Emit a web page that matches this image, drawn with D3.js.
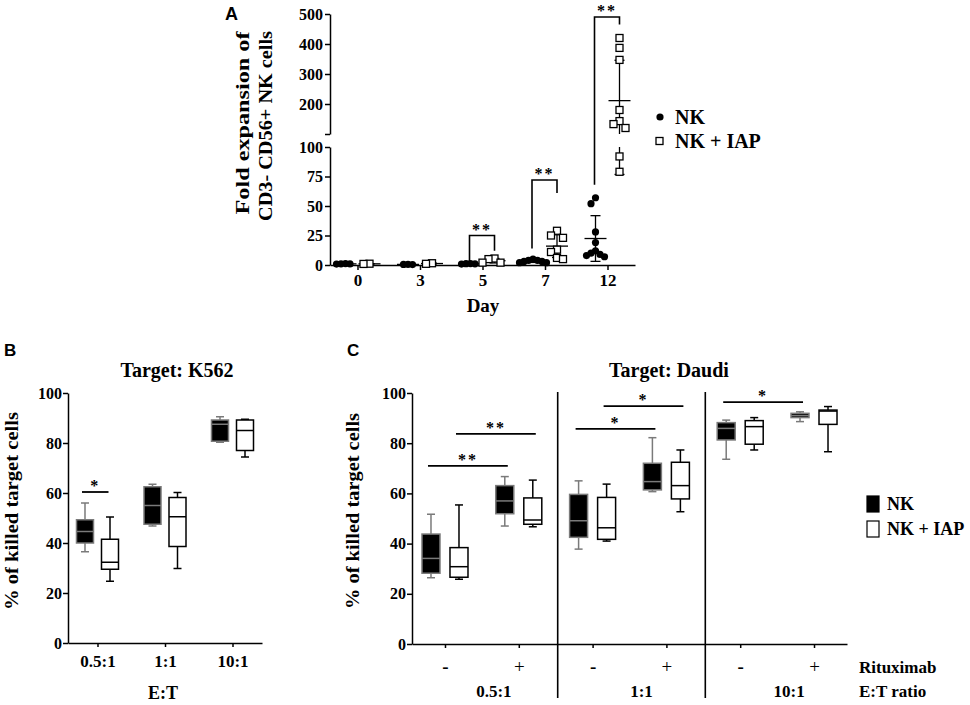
<!DOCTYPE html>
<html>
<head>
<meta charset="utf-8">
<script src="https://cdn.jsdelivr.net/npm/d3@7"></script>
<style>
  body { margin: 0; background: #fff; }
  svg text { font-family: 'Liberation Serif', 'Times New Roman', serif; font-weight: bold; fill: #000; }
  .axis path, .axis line { stroke: #000; stroke-width: 1.5; }
  .axis text { font-family: 'Liberation Serif', 'Times New Roman', serif; font-weight: bold; fill: #000; }
  .panel { font-family: 'Liberation Sans', Arial, sans-serif !important; }
</style>
</head>
<body>
<script>
// ---- Panel A: fold expansion by day
const days = ["0", "3", "5", "7", "12"];
const nkFold = [
  [0.8, 1.0, 1.2, 0.9],
  [0.4, 0.6, 0.5],
  [1.0, 1.2, 0.8, 1.1],
  [2, 3, 4, 5, 3, 2, 4],
  [57, 52, 28, 19, 12, 10, 9, 8, 7]
];
const iapFold = [
  [0.9, 1.1],
  [1.5, 1.0],
  [5.5, 5, 2, 2],
  [29, 25, 23, 13, 11, 6, 5],
  [420, 387, 347, 180, 143, 133, 120, 92, 79]
];
const lowTicks = [0, 25, 50, 75, 100];
const highTicks = [100, 200, 300, 400, 500];
// brackets: day, bracket top, end of NK leg, end of IAP leg
const sigA = [
  { day: "5", top: 25, nkEnd: 3, iapEnd: 12, label: "**" },
  { day: "7", top: 72, nkEnd: 14, iapEnd: 61, label: "**" },
  { day: "12", top: 490, nkEnd: 68, iapEnd: 465, label: "**" }
];

// ---- Panel B: K562, box stats [min, q1, median, q3, max]
const etRatios = ["0.5:1", "1:1", "10:1"];
const nkK562 = [
  [36.5, 40, 44.6, 49.3, 56],
  [46.8, 47.5, 55, 62.5, 63.5],
  [80.3, 80.7, 87.5, 89.2, 90.5]
];
const iapK562 = [
  [24.7, 29.5, 32.3, 41.5, 50.4],
  [29.8, 38.6, 50.5, 58.2, 60.2],
  [74.4, 77, 85, 89.2, 89.5]
];
const sigB = [{ ratio: "0.5:1", y: 60.4, label: "*" }];

// ---- Panel C: Daudi, with / without rituximab
const daudiRatios = ["0.5:1", "1:1", "10:1"];
const rituximab = ["-", "+"];
const nkDaudi = [
  [26.4, 28.2, 34.1, 43.8, 51.7],
  [47, 51.9, 57, 63.1, 66.7],
  [37.8, 42.5, 49.1, 59.6, 65],
  [60.7, 61.4, 64.7, 72, 82.2],
  [73.6, 81.3, 85.9, 88.2, 89.2],
  [88.6, 90.2, 91, 91.9, 92.5]
];
const iapDaudi = [
  [25.8, 26.6, 30.8, 38.4, 55.4],
  [46.7, 47.7, 49.4, 58.2, 65.3],
  [41, 41.7, 46.3, 58.4, 63.7],
  [52.7, 57.8, 63.1, 72.4, 77.3],
  [77.3, 79.6, 86.6, 89, 90.2],
  [76.6, 87.5, 92.8, 93.2, 94.6]
];
const sigC = [
  { ratio: "0.5:1", series: "nk", y: 71, label: "**" },
  { ratio: "0.5:1", series: "iap", y: 83.7, label: "**" },
  { ratio: "1:1", series: "nk", y: 85.7, label: "*" },
  { ratio: "1:1", series: "iap", y: 94.8, label: "*" },
  { ratio: "10:1", series: "nk", y: 96.4, label: "*" }
];
const pctTicks = [0, 20, 40, 60, 80, 100];

const svg = d3.select("body").append("svg")
  .attr("width", 970)
  .attr("height", 705);

// ================= Panel A =================
const gA = svg.append("g");
const xA = d3.scalePoint().domain(days).range([330, 635]).padding(0.44);
const yLow = d3.scaleLinear().domain([0, 100]).range([265, 147]);
const yHigh = d3.scaleLinear().domain([100, 500]).range([134, 14]);
const yA = v => v <= 100 ? yLow(v) : yHigh(v);

gA.append("g").attr("class", "axis").attr("transform", "translate(330,0)")
  .call(d3.axisLeft(yLow).tickValues(lowTicks).tickSize(5).tickPadding(2).tickSizeOuter(0))
  .selectAll("text").style("font-size", "16px");
gA.append("g").attr("class", "axis").attr("transform", "translate(330,0)")
  .call(d3.axisLeft(yHigh).tickValues(highTicks).tickSize(5).tickPadding(2).tickSizeOuter(0)
    .tickFormat(d => d === 100 ? "" : d))
  .selectAll("text").style("font-size", "16px");
gA.append("g").attr("class", "axis").attr("transform", "translate(0,265)")
  .call(d3.axisBottom(xA).tickSize(5).tickPadding(4).tickSizeOuter(0))
  .selectAll("text").style("font-size", "17px");

// spread points that overlap, like a scatter dot plot
function dodge(values, cx, step, tol) {
  const placed = [];
  values.slice().sort((a, b) => b - a).forEach(v => {
    const y = yA(v);
    for (let i = 0; i < 20; i++) {
      const k = i === 0 ? 0 : (i % 2 ? -Math.ceil(i / 2) : Math.ceil(i / 2));
      const x = cx + k * step;
      const hit = placed.some(p => Math.abs(p.y - y) < tol && Math.abs(p.x - x) < step - 0.01);
      if (!hit) { placed.push({ x, y, v }); break; }
    }
  });
  return placed;
}

// vertical segment that respects the axis break
function breakLine(g, x, lo, hi) {
  lo = Math.max(lo, 0);
  if (hi <= 100 || lo >= 100) {
    g.append("line").attr("x1", x).attr("x2", x).attr("y1", yA(lo)).attr("y2", yA(hi));
  } else {
    g.append("line").attr("x1", x).attr("x2", x).attr("y1", yLow(lo)).attr("y2", yLow(100));
    g.append("line").attr("x1", x).attr("x2", x).attr("y1", yHigh(100)).attr("y2", yHigh(hi));
  }
}

const statsG = gA.append("g").attr("stroke", "#000").attr("stroke-width", 1.3);
days.forEach((d, i) => {
  [[nkFold[i], -12], [iapFold[i], 12]].forEach(([vals, off]) => {
    const cx = xA(d) + off;
    const m = d3.mean(vals);
    const sd = d3.deviation(vals) || 0;
    breakLine(statsG, cx, m - sd, m + sd);
    statsG.append("line").attr("x1", cx - 11).attr("x2", cx + 11).attr("y1", yA(m)).attr("y2", yA(m));
    [m - sd, m + sd].forEach(v => {
      if (v > 0) statsG.append("line").attr("x1", cx - 5).attr("x2", cx + 5).attr("y1", yA(v)).attr("y2", yA(v));
    });
  });
});

days.forEach((d, i) => {
  gA.append("g").selectAll("circle")
    .data(dodge(nkFold[i], xA(d) - 12, 4.5, 7))
    .join("circle")
    .attr("cx", p => p.x).attr("cy", p => p.y).attr("r", 3.6)
    .attr("fill", "#000");
  gA.append("g").selectAll("rect")
    .data(dodge(iapFold[i], xA(d) + 12, 6, 7.5))
    .join("rect")
    .attr("x", p => p.x - 3.5).attr("y", p => p.y - 3.5)
    .attr("width", 7).attr("height", 7)
    .attr("fill", "#fff").attr("stroke", "#000").attr("stroke-width", 1.3);
});

sigA.forEach(s => {
  const x1 = xA(s.day) - 13, x2 = xA(s.day) + 12;
  gA.append("path")
    .attr("d", `M${x1},${yA(s.nkEnd)}V${yA(s.top)}H${x2}V${yA(s.iapEnd)}`)
    .attr("fill", "none").attr("stroke", "#000").attr("stroke-width", 1.6);
  gA.append("text").attr("x", (x1 + x2) / 2).attr("y", yA(s.top) - 1)
    .attr("text-anchor", "middle").style("font-size", "16px").style("letter-spacing", "2px")
    .text(s.label);
});

gA.append("text").attr("class", "panel").attr("x", 225).attr("y", 20)
  .style("font-size", "18px").text("A");
gA.append("text").attr("transform", "translate(249,123) rotate(-90)")
  .attr("text-anchor", "middle").style("font-size", "19px")
  .attr("textLength", 183).attr("lengthAdjust", "spacingAndGlyphs")
  .text("Fold expansion of");
gA.append("text").attr("transform", "translate(272,126) rotate(-90)")
  .attr("text-anchor", "middle").style("font-size", "19px")
  .attr("textLength", 190).attr("lengthAdjust", "spacingAndGlyphs")
  .text("CD3- CD56+ NK cells");
gA.append("text").attr("x", 483).attr("y", 312).attr("text-anchor", "middle")
  .style("font-size", "19px").text("Day");

// legend A
gA.append("circle").attr("cx", 660).attr("cy", 117).attr("r", 3.6).attr("fill", "#000");
gA.append("text").attr("x", 675).attr("y", 117).attr("dy", "0.35em").style("font-size", "20px").text("NK");
gA.append("rect").attr("x", 656).attr("y", 137.5).attr("width", 7).attr("height", 7)
  .attr("fill", "#fff").attr("stroke", "#000").attr("stroke-width", 1.3);
gA.append("text").attr("x", 675).attr("y", 141).attr("dy", "0.35em").style("font-size", "20px").text("NK + IAP");

// ================= box plot helper =================
function drawBox(g, cx, s, y, w, isNK) {
  const col = isNK ? "#7a7a7a" : "#000";
  const b = g.append("g").attr("stroke", col).attr("stroke-width", 1.5);
  b.append("line").attr("x1", cx).attr("x2", cx).attr("y1", y(s[0])).attr("y2", y(s[1]));
  b.append("line").attr("x1", cx).attr("x2", cx).attr("y1", y(s[3])).attr("y2", y(s[4]));
  [s[0], s[4]].forEach(v => b.append("line")
    .attr("x1", cx - 4).attr("x2", cx + 4).attr("y1", y(v)).attr("y2", y(v)));
  b.append("rect").attr("x", cx - w / 2).attr("width", w)
    .attr("y", y(s[3])).attr("height", y(s[1]) - y(s[3]))
    .attr("fill", isNK ? "#000" : "#fff");
  b.append("line").attr("x1", cx - w / 2).attr("x2", cx + w / 2).attr("y1", y(s[2])).attr("y2", y(s[2]));
}

function sigLine(g, x1, x2, yv, label) {
  g.append("line").attr("x1", x1).attr("x2", x2).attr("y1", yv).attr("y2", yv)
    .attr("stroke", "#000").attr("stroke-width", 1.8);
  g.append("text").attr("x", (x1 + x2) / 2).attr("y", yv - 1).attr("text-anchor", "middle")
    .style("font-size", "16px").style("letter-spacing", "2px").text(label);
}

// ================= Panel B =================
const gB = svg.append("g");
const xB = d3.scalePoint().domain(etRatios).range([68, 262]).padding(0.437);
const yB = d3.scaleLinear().domain([0, 100]).range([643, 393]);

gB.append("g").attr("class", "axis").attr("transform", "translate(68,0)")
  .call(d3.axisLeft(yB).tickValues(pctTicks).tickSize(5).tickPadding(1).tickSizeOuter(0))
  .selectAll("text").style("font-size", "16px");
gB.append("g").attr("class", "axis").attr("transform", "translate(0,643)")
  .call(d3.axisBottom(xB).tickSize(4).tickPadding(8).tickSizeOuter(0))
  .selectAll("text").style("font-size", "17px");

etRatios.forEach((r, i) => {
  drawBox(gB, xB(r) - 12.5, nkK562[i], yB, 17, true);
  drawBox(gB, xB(r) + 12.5, iapK562[i], yB, 17, false);
});
sigB.forEach(s => sigLine(gB, xB(s.ratio) - 15.5, xB(s.ratio) + 11, yB(s.y), s.label));

gB.append("text").attr("class", "panel").attr("x", 4).attr("y", 356).style("font-size", "17px").text("B");
gB.append("text").attr("x", 177).attr("y", 377).attr("text-anchor", "middle")
  .style("font-size", "20px").text("Target: K562");
gB.append("text").attr("transform", "translate(18,511) rotate(-90)")
  .attr("text-anchor", "middle").style("font-size", "19px")
  .attr("textLength", 198).attr("lengthAdjust", "spacingAndGlyphs")
  .text("% of killed target cells");
gB.append("text").attr("x", 163).attr("y", 699).attr("text-anchor", "middle")
  .style("font-size", "18px").text("E:T");

// ================= Panel C =================
const gC = svg.append("g");
const cKeys = daudiRatios.flatMap(r => rituximab.map(s => `${r}|${s}`));
const xC = d3.scalePoint().domain(cKeys).range([412, 847]).padding(0.447);
const yC = d3.scaleLinear().domain([0, 100]).range([644, 393]);

gC.append("g").attr("class", "axis").attr("transform", "translate(412,0)")
  .call(d3.axisLeft(yC).tickValues(pctTicks).tickSize(5).tickPadding(1).tickSizeOuter(0))
  .selectAll("text").style("font-size", "16px");
const xAxisC = gC.append("g").attr("class", "axis").attr("transform", "translate(0,644)")
  .call(d3.axisBottom(xC).tickSize(4).tickSizeOuter(0).tickFormat(d => d.split("|")[1]));
xAxisC.selectAll("text").attr("y", 29).attr("dy", 0).style("font-size", "19px")
  .style("font-weight", d => d.endsWith("+") ? "normal" : "bold");

// group separators
for (let i = 1; i < daudiRatios.length; i++) {
  const xs = (xC(cKeys[2 * i - 1]) + xC(cKeys[2 * i])) / 2 + 2;
  gC.append("line").attr("x1", xs).attr("x2", xs).attr("y1", 392).attr("y2", 698)
    .attr("stroke", "#000").attr("stroke-width", 1.6);
}

cKeys.forEach((k, i) => {
  drawBox(gC, xC(k) - 14, nkDaudi[i], yC, 18, true);
  drawBox(gC, xC(k) + 14, iapDaudi[i], yC, 18, false);
});
sigC.forEach(s => {
  const off = s.series === "nk" ? -14 : 14;
  const x1 = xC(`${s.ratio}|-`) + off - 3;
  const x2 = xC(`${s.ratio}|+`) + off + 3;
  sigLine(gC, x1, x2, yC(s.y), s.label);
});

daudiRatios.forEach(r => {
  gC.append("text").attr("x", (xC(`${r}|-`) + xC(`${r}|+`)) / 2 + 12).attr("y", 697)
    .attr("text-anchor", "middle").style("font-size", "17px").text(r);
});
gC.append("text").attr("x", 859).attr("y", 673).style("font-size", "17px").text("Rituximab");
gC.append("text").attr("x", 859).attr("y", 697).style("font-size", "17px").text("E:T ratio");

gC.append("text").attr("class", "panel").attr("x", 347).attr("y", 356).style("font-size", "17px").text("C");
gC.append("text").attr("x", 669).attr("y", 377).attr("text-anchor", "middle")
  .style("font-size", "20px").text("Target: Daudi");
gC.append("text").attr("transform", "translate(359,511) rotate(-90)")
  .attr("text-anchor", "middle").style("font-size", "19px")
  .attr("textLength", 196).attr("lengthAdjust", "spacingAndGlyphs")
  .text("% of killed target cells");

// legend C
gC.append("rect").attr("x", 867).attr("y", 496).attr("width", 12).attr("height", 16)
  .attr("fill", "#000").attr("stroke", "#000").attr("stroke-width", 1.2);
gC.append("text").attr("x", 887).attr("y", 510).style("font-size", "18px").text("NK");
gC.append("rect").attr("x", 867).attr("y", 521).attr("width", 12).attr("height", 16)
  .attr("fill", "#fff").attr("stroke", "#000").attr("stroke-width", 1.2);
gC.append("text").attr("x", 887).attr("y", 535).style("font-size", "18px").text("NK + IAP");
</script>
</body>
</html>
